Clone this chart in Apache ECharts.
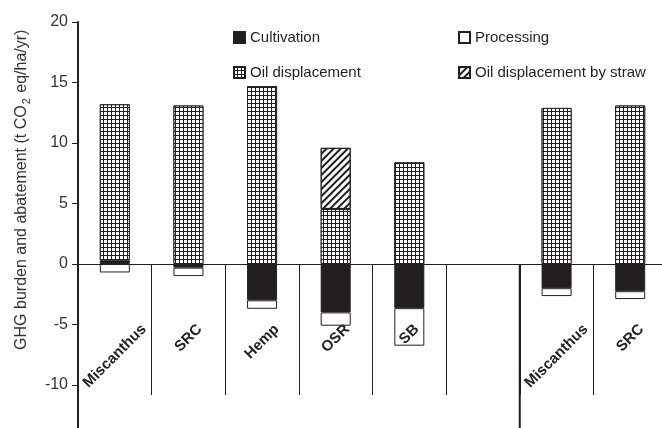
<!DOCTYPE html>
<html>
<head>
<meta charset="utf-8">
<script src="https://cdn.jsdelivr.net/npm/echarts@6/dist/echarts.min.js"></script>
<style>
  html, body { margin: 0; padding: 0; background: #fff; }
  #chart { width: 662px; height: 428px; }
</style>
</head>
<body>
<div id="chart"></div>
<script>
// Crops and their GHG budget components (t CO2 eq/ha/yr)
const categories = ['Miscanthus', 'SRC', 'Hemp', 'OSR', 'SB', '', 'Miscanthus', 'SRC'];
const cultivation = [0.3, -0.3, -3.0, -4.0, -3.65, null, -2.0, -2.25];
const processing = [-0.7, -0.7, -0.7, -1.1, -3.1, null, -0.65, -0.65];
const oilDisplacement = [12.9, 13.1, 14.7, 4.55, 8.4, null, 12.9, 13.1];
const strawDisplacement = [null, null, null, 5.05, null, null, null, null];
const yTicks = { min: -15, max: 20, interval: 5 };
// Position (in category units) of the divider between the two crop groups
const groupDivider = [[6, 0], [6, -15]];

const INK = '#231f20';
const LABEL_FONT_SIZE = 15;
const LABEL_FONT = 'bold ' + LABEL_FONT_SIZE + 'px "Liberation Sans", Arial, sans-serif';

// Measure each category label so the rotated text can be centred under its bar
const ctx = document.createElement('canvas').getContext('2d');
ctx.font = LABEL_FONT;
const rich = {};
categories.forEach((name, i) => {
  const w = ctx.measureText(name).width;
  rich['c' + i] = {
    fontSize: LABEL_FONT_SIZE,
    fontWeight: 'bold',
    fontFamily: '"Liberation Sans", Arial, sans-serif',
    color: INK,
    padding: [w * 0.5, w * 0.5, 0, 0]
  };
});

const barBase = { borderColor: INK, borderWidth: 1 };

const chart = echarts.init(document.getElementById('chart'), null, { renderer: 'canvas' });
chart.setOption({
  animation: false,
  textStyle: { fontFamily: '"Liberation Sans", Arial, sans-serif' },
  grid: {
    left: 78, right: -5, top: 22, bottom: -17.5,
    containLabel: false, outerBoundsMode: 'none'
  },
  legend: [
    {
      data: ['Cultivation', 'Oil displacement'],
      orient: 'vertical', left: 228, top: 25, itemGap: 20,
      itemWidth: 11, itemHeight: 11, icon: 'rect',
      textStyle: { fontSize: 15, color: INK }
    },
    {
      data: ['Processing', 'Oil displacement by straw'],
      orient: 'vertical', left: 453, top: 25, itemGap: 20,
      itemWidth: 11, itemHeight: 11, icon: 'rect',
      textStyle: { fontSize: 15, color: INK }
    }
  ],
  xAxis: [
    {
      // zero line with the long separator ticks between crops
      type: 'category',
      data: categories,
      axisLine: { onZero: true, lineStyle: { color: INK, width: 1 } },
      axisTick: { show: true, interval: 0, length: 131, lineStyle: { color: INK, width: 1 } },
      axisLabel: { show: false },
      splitLine: { show: false }
    },
    {
      type: 'value', min: 0, max: categories.length, show: false
    },
    {
      // crop names, set just under the zero line and drawn above the bars
      type: 'category',
      data: categories,
      position: 'bottom',
      offset: -181.5,
      z: 10,
      axisLine: { show: false, onZero: false },
      axisTick: { show: false },
      axisLabel: {
        interval: 0,
        rotate: 45,
        align: 'center',
        verticalAlign: 'middle',
        margin: 63,
        fontSize: LABEL_FONT_SIZE,
        fontWeight: 'bold',
        color: INK,
        formatter: (value, idx) => value ? '{c' + idx + '|' + value + '}' : '',
        rich: rich
      },
      splitLine: { show: false }
    }
  ],
  yAxis: {
    type: 'value',
    min: yTicks.min, max: yTicks.max, interval: yTicks.interval,
    axisLine: { show: true, onZero: false, lineStyle: { color: INK, width: 2 } },
    axisTick: { show: true, length: 6, lineStyle: { color: INK, width: 1 } },
    axisLabel: { fontSize: 16, color: '#333', margin: 10 },
    splitLine: { show: false },
    name: '{a|GHG burden and abatement (t CO}{s|2}{a| eq/ha/yr)}',
    nameLocation: 'middle',
    nameGap: 46,
    nameTextStyle: {
      padding: [0, 0, 0, 88],
      rich: {
        a: { fontSize: 16, color: '#333' },
        s: { fontSize: 11, color: '#333', padding: [9, 1, 0, 1] }
      }
    }
  },
  series: [
    {
      name: 'Cultivation', type: 'bar', stack: 'ghg', barWidth: 30,
      itemStyle: Object.assign({ color: INK }, barBase),
      data: cultivation
    },
    {
      name: 'Processing', type: 'bar', stack: 'ghg', barWidth: 30,
      itemStyle: Object.assign({ color: '#fff' }, barBase),
      data: processing
    },
    {
      name: 'Oil displacement', type: 'bar', stack: 'ghg', barWidth: 30,
      itemStyle: Object.assign({
        color: INK,
        decal: {
          symbol: 'rect', symbolSize: 1, color: '#fff',
          dashArrayX: [3, 1], dashArrayY: [3, 1], rotation: 0
        }
      }, barBase),
      data: oilDisplacement
    },
    {
      name: 'Oil displacement by straw', type: 'bar', stack: 'ghg', barWidth: 30,
      itemStyle: Object.assign({
        color: '#fff',
        decal: {
          symbol: 'rect', symbolSize: 1, color: INK,
          dashArrayX: [1, 0], dashArrayY: [1.4, 2.6], rotation: -Math.PI / 4
        }
      }, barBase),
      data: strawDisplacement
    },
    {
      name: 'divider', type: 'line', xAxisIndex: 1,
      data: groupDivider, symbol: 'none', silent: true,
      lineStyle: { color: INK, width: 2 }
    }
  ]
});
</script>
</body>
</html>
